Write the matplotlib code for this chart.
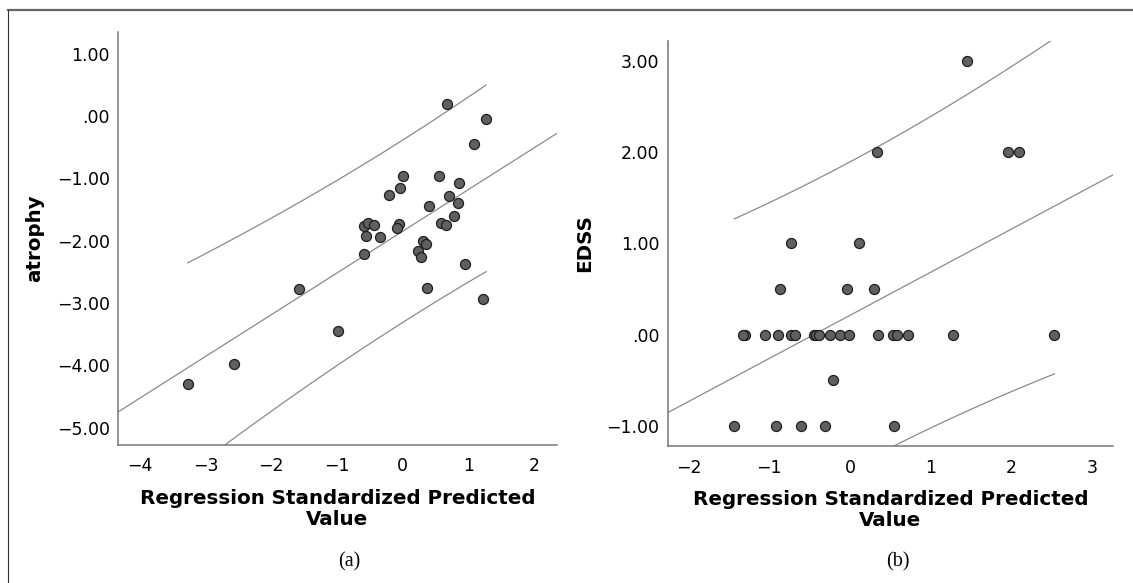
import matplotlib
matplotlib.use("Agg")
import matplotlib.pyplot as plt
import numpy as np
from matplotlib.lines import Line2D

# (a) atrophy vs regression standardized predicted value
a_x = [-3.27, -2.56, -1.57, -0.98, -0.59, -0.59, -0.52, -0.56, -0.44, -0.35,
       -0.20, -0.04, 0.00, -0.06, -0.08, 0.31, 0.35, 0.24, 0.28, 0.37,
       0.40, 0.56, 0.58, 0.66, 0.68, 0.71, 0.79, 0.84, 0.86, 0.95,
       1.08, 1.23, 1.27]
a_y = [-4.30, -3.98, -2.78, -3.45, -2.22, -1.76, -1.71, -1.93, -1.75, -1.94,
       -1.26, -1.16, -0.96, -1.73, -1.80, -2.01, -2.06, -2.16, -2.26, -2.76,
       -1.45, -0.96, -1.71, -1.75, 0.19, -1.28, -1.61, -1.40, -1.08, -2.38,
       -0.44, -2.93, -0.04]

# (b) EDSS vs regression standardized predicted value
# (two cases sit on top of others on the .00 row)
b_x = [1.45, 0.33, 1.95, 2.09, -0.73, 0.11, -0.87, -0.04, 0.30,
       -1.30, -1.33, -1.05, -0.89, -0.73, -0.68, -0.44, -0.42, -0.38, -0.25,
       -0.12, -0.01, 0.35, 0.53, 0.58, 0.72, 1.28, 2.53,
       -0.21, -1.43, -0.92, -0.61, -0.31, 0.54]
b_y = [3.0, 2.0, 2.0, 2.0, 1.0, 1.0, 0.5, 0.5, 0.5,
       0, 0, 0, 0, 0, 0, 0, 0, 0, 0,
       0, 0, 0, 0, 0, 0, 0, 0,
       -0.5, -1.0, -1.0, -1.0, -1.0, -1.0]

a_yticks = [1, 0, -1, -2, -3, -4, -5]
b_yticks = [3, 2, 1, 0, -1]
t_crit = 2.04  # t(0.975, 31 df)


def tick_fmt(v):
    s = "%.2f" % v
    if s.startswith("0."):
        s = s[1:]
    return s.replace("-", "\u2212")


def draw_panel(ax, x, y, xlim, ylim, xticks, yticks, ylabel):
    x = np.array(x)
    y = np.array(y)
    n = len(x)
    slope, icpt = np.polyfit(x, y, 1)
    resid = y - (icpt + slope * x)
    s = np.sqrt(np.sum(resid ** 2) / (n - 2))
    sxx = np.sum((x - x.mean()) ** 2)

    # fit line over the whole axis
    xf = np.linspace(xlim[0], xlim[1], 50)
    ax.plot(xf, icpt + slope * xf, color="#8a8a8a", lw=0.9, zorder=1)

    # individual prediction interval over the data range
    xi = np.linspace(x.min(), x.max(), 100)
    hw = t_crit * s * np.sqrt(1 + 1.0 / n + (xi - x.mean()) ** 2 / sxx)
    ax.plot(xi, icpt + slope * xi + hw, color="#8a8a8a", lw=0.9, zorder=1)
    ax.plot(xi, icpt + slope * xi - hw, color="#8a8a8a", lw=0.9, zorder=1)

    ax.scatter(x, y, s=52, facecolor="#606060", edgecolor="#1e1e1e",
               linewidth=0.9, zorder=3, clip_on=False)

    ax.set_xlim(xlim)
    ax.set_ylim(ylim)
    ax.set_xticks(xticks)
    ax.set_xticklabels([str(t).replace("-", "\u2212") for t in xticks])
    ax.set_yticks(yticks)
    ax.set_yticklabels([tick_fmt(t) for t in yticks])
    ax.tick_params(axis="x", length=0, pad=9, labelsize=12.5)
    ax.tick_params(axis="y", length=0, pad=6, labelsize=12.5)
    for side in ["top", "right"]:
        ax.spines[side].set_visible(False)
    for side in ["left", "bottom"]:
        ax.spines[side].set_color("#777777")
        ax.spines[side].set_linewidth(1.1)
    ax.set_xlabel("Regression Standardized Predicted\nValue", fontsize=14.3,
                  fontweight="bold", labelpad=10, linespacing=1.1)
    ax.set_ylabel(ylabel, fontsize=14.3, fontweight="bold", labelpad=9)


fig = plt.figure(figsize=(11.33, 5.83), dpi=100)
ax1 = fig.add_axes([0.10415, 0.23671, 0.38747, 0.70840])
ax2 = fig.add_axes([0.58932, 0.23499, 0.39303, 0.69520])

draw_panel(ax1, a_x, a_y, (-4.33, 2.35), (-5.28, 1.35),
           [-4, -3, -2, -1, 0, 1, 2], a_yticks, "atrophy")
draw_panel(ax2, b_x, b_y, (-2.256, 3.255), (-1.22, 3.22),
           [-2, -1, 0, 1, 2, 3], b_yticks, "EDSS")

fig.text(349 / 1133, 1 - 562 / 583, "(a)", fontsize=14.5,
         family="Liberation Serif", ha="center", va="center")
fig.text(898 / 1133, 1 - 562 / 583, "(b)", fontsize=14.5,
         family="Liberation Serif", ha="center", va="center")

# outer frame (top and left edges visible)
fig.add_artist(Line2D([8 / 1133, 1], [1 - 10 / 583, 1 - 10 / 583],
                      transform=fig.transFigure, color="#666666", lw=1.6))
fig.add_artist(Line2D([8 / 1133, 8 / 1133], [0, 1 - 10 / 583],
                      transform=fig.transFigure, color="#333333", lw=0.8))

fig.savefig("out.png", dpi=100)
